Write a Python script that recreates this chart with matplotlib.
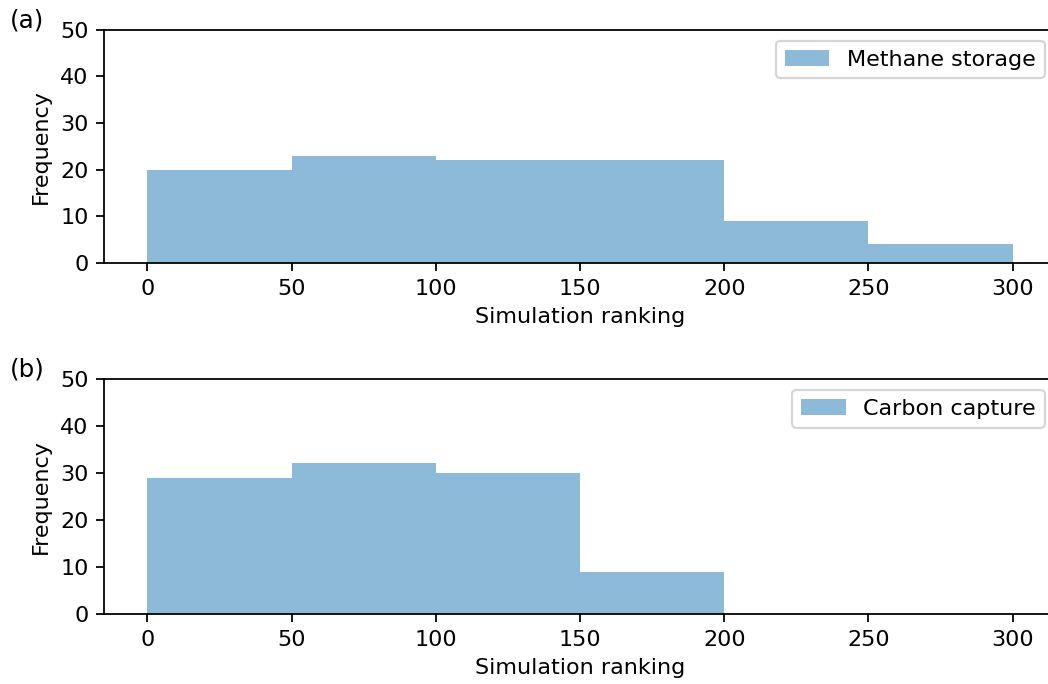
import matplotlib
matplotlib.use("Agg")
import matplotlib.pyplot as plt
import numpy as np

bin_edges = [0, 50, 100, 150, 200, 250, 300]
methane_counts = [20, 23, 22, 22, 9, 4]
carbon_counts = [29, 32, 30, 9, 0, 0]
labels = ["Methane storage", "Carbon capture"]
panel_tags = ["(a)", "(b)"]

DPI = 160
W, H = 1048, 684
fig = plt.figure(figsize=(W / DPI, H / DPI), dpi=DPI)

boxes = [(104, 29.5, 263), (104, 378.7, 614)]
centers = np.array(bin_edges[:-1]) + 25
for (left, top, bottom), counts, lab, tag in zip(boxes, [methane_counts, carbon_counts], labels, panel_tags):
    ax = fig.add_axes([left / W, 1 - bottom / H, 952 / W, (bottom - top) / H])
    ax.hist(centers, bins=bin_edges, weights=counts, histtype='stepfilled',
            color='#1f77b4', alpha=0.5, label=lab)
    ax.set_xlim(-15, 315)
    ax.set_ylim(0, 50)
    ax.set_xticks([0, 50, 100, 150, 200, 250, 300])
    ax.set_yticks([0, 10, 20, 30, 40, 50])
    ax.spines['right'].set_visible(False)
    ax.set_xlabel("Simulation ranking")
    ax.set_ylabel("Frequency")
    ax.legend(loc='upper right')
    fig.text(10 / W, 1 - (top - 9) / H, tag, fontsize=11, ha='left', va='center')

fig.savefig("out.png", dpi=DPI)
